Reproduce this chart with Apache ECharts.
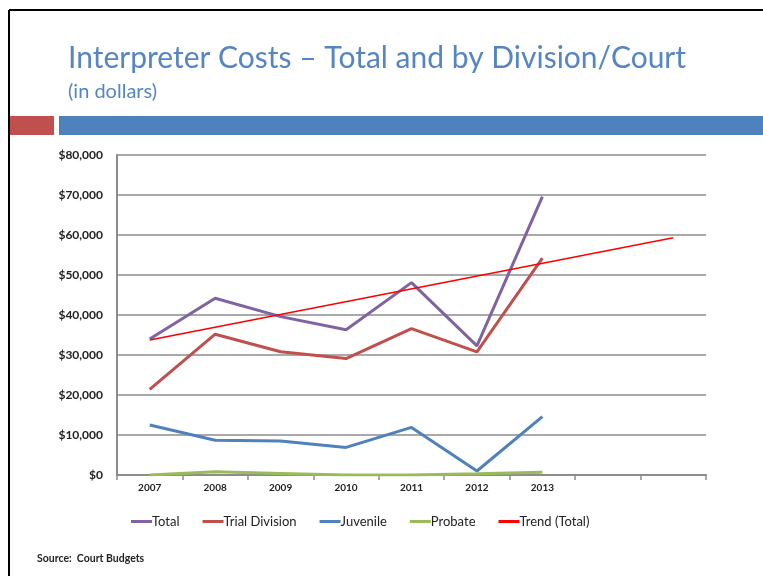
<!DOCTYPE html>
<html>
<head>
<meta charset="utf-8">
<script src="https://cdn.jsdelivr.net/npm/echarts@6/dist/echarts.min.js"></script>
<style>
  html, body { margin: 0; padding: 0; background: #fff; }
  #chart { width: 763px; height: 576px; }
</style>
</head>
<body>
<div id="chart"></div>
<script>
// ---- data ----
const years = ['2007', '2008', '2009', '2010', '2011', '2012', '2013', '', ''];
const total = [34000, 44200, 39600, 36300, 48100, 32300, 69600];
const trialDivision = [21400, 35200, 30800, 29100, 36600, 30800, 54200];
const juvenile = [12500, 8700, 8500, 6900, 11900, 1000, 14600];
const probate = [0, 800, 400, 0, 0, 300, 700];
// linear trend of Total, read at its two ends (2007 and two periods past 2013)
const trendTotal = [33750, null, null, null, null, null, null, null, 59300];
const yTicks = { min: 0, max: 80000, interval: 10000 };

const chart = echarts.init(document.getElementById('chart'));
const fontMain = 'Lato, "Noto Sans", sans-serif';

chart.setOption({
  animation: false,
  backgroundColor: '#ffffff',
  title: {
    text: 'Interpreter Costs \u2013 Total and by Division/Court',
    subtext: '(in dollars)',
    left: 63,
    top: 38,
    itemGap: 9,
    textStyle: { color: '#5585C4', fontSize: 30, fontWeight: 'normal', fontFamily: fontMain },
    subtextStyle: { color: '#5585C4', fontSize: 20, fontFamily: fontMain }
  },
  graphic: [
    { type: 'rect', shape: { x: 10, y: 116, width: 44, height: 19 }, style: { fill: '#C0504D' } },
    { type: 'rect', shape: { x: 59, y: 116, width: 710, height: 19 }, style: { fill: '#4F81BD' } },
    { type: 'line', shape: { x1: 9, y1: 10, x2: 770, y2: 10 }, style: { stroke: '#000', lineWidth: 2 } },
    { type: 'line', shape: { x1: 9, y1: 10, x2: 9, y2: 580 }, style: { stroke: '#000', lineWidth: 2 } },
    { type: 'text', left: 37, top: 553, style: { text: 'Source:  Court Budgets', fill: '#222', font: 'bold 10.5px ' + fontMain } }
  ],
  legend: {
    top: 510,
    left: 126,
    icon: 'rect',
    itemWidth: 21,
    itemHeight: 3,
    itemGap: 23,
    textStyle: { color: '#222', fontSize: 13, fontFamily: fontMain, padding: [0, 0, 0, -5] },
    data: ['Total', 'Trial Division', 'Juvenile', 'Probate', 'Trend (Total)']
  },
  grid: { left: 117, right: 57, top: 155, bottom: 101, containLabel: false },
  xAxis: {
    type: 'category',
    data: years,
    boundaryGap: true,
    axisLine: { lineStyle: { color: '#8C8C8C', width: 2 } },
    axisTick: { show: true, length: 5, lineStyle: { color: '#8C8C8C', width: 1.5 } },
    axisLabel: { color: '#222', fontSize: 10, fontWeight: 'bold', fontFamily: fontMain, margin: 8 }
  },
  yAxis: {
    type: 'value',
    min: yTicks.min,
    max: yTicks.max,
    interval: yTicks.interval,
    axisLine: { show: true, lineStyle: { color: '#8C8C8C', width: 2 } },
    axisTick: { show: false },
    splitLine: { lineStyle: { color: '#8C8C8C', width: 1.5 } },
    axisLabel: {
      color: '#222', fontSize: 12, fontWeight: 'bold', fontFamily: fontMain, margin: 14,
      formatter: v => '$' + v.toLocaleString('en-US')
    }
  },
  series: [
    { name: 'Total', type: 'line', data: total, symbol: 'none', lineStyle: { color: '#8064A2', width: 3 }, itemStyle: { color: '#8064A2' }, z: 3 },
    { name: 'Trial Division', type: 'line', data: trialDivision, symbol: 'none', lineStyle: { color: '#C0504D', width: 3 }, itemStyle: { color: '#C0504D' }, z: 3 },
    { name: 'Juvenile', type: 'line', data: juvenile, symbol: 'none', lineStyle: { color: '#4F81BD', width: 3 }, itemStyle: { color: '#4F81BD' }, z: 3 },
    { name: 'Probate', type: 'line', data: probate, symbol: 'none', lineStyle: { color: '#9BBB59', width: 3 }, itemStyle: { color: '#9BBB59' }, z: 3 },
    { name: 'Trend (Total)', type: 'line', data: trendTotal, connectNulls: true, symbol: 'none', lineStyle: { color: '#FF0000', width: 1.5 }, itemStyle: { color: '#FF0000' }, z: 4 }
  ]
});
</script>
</body>
</html>
